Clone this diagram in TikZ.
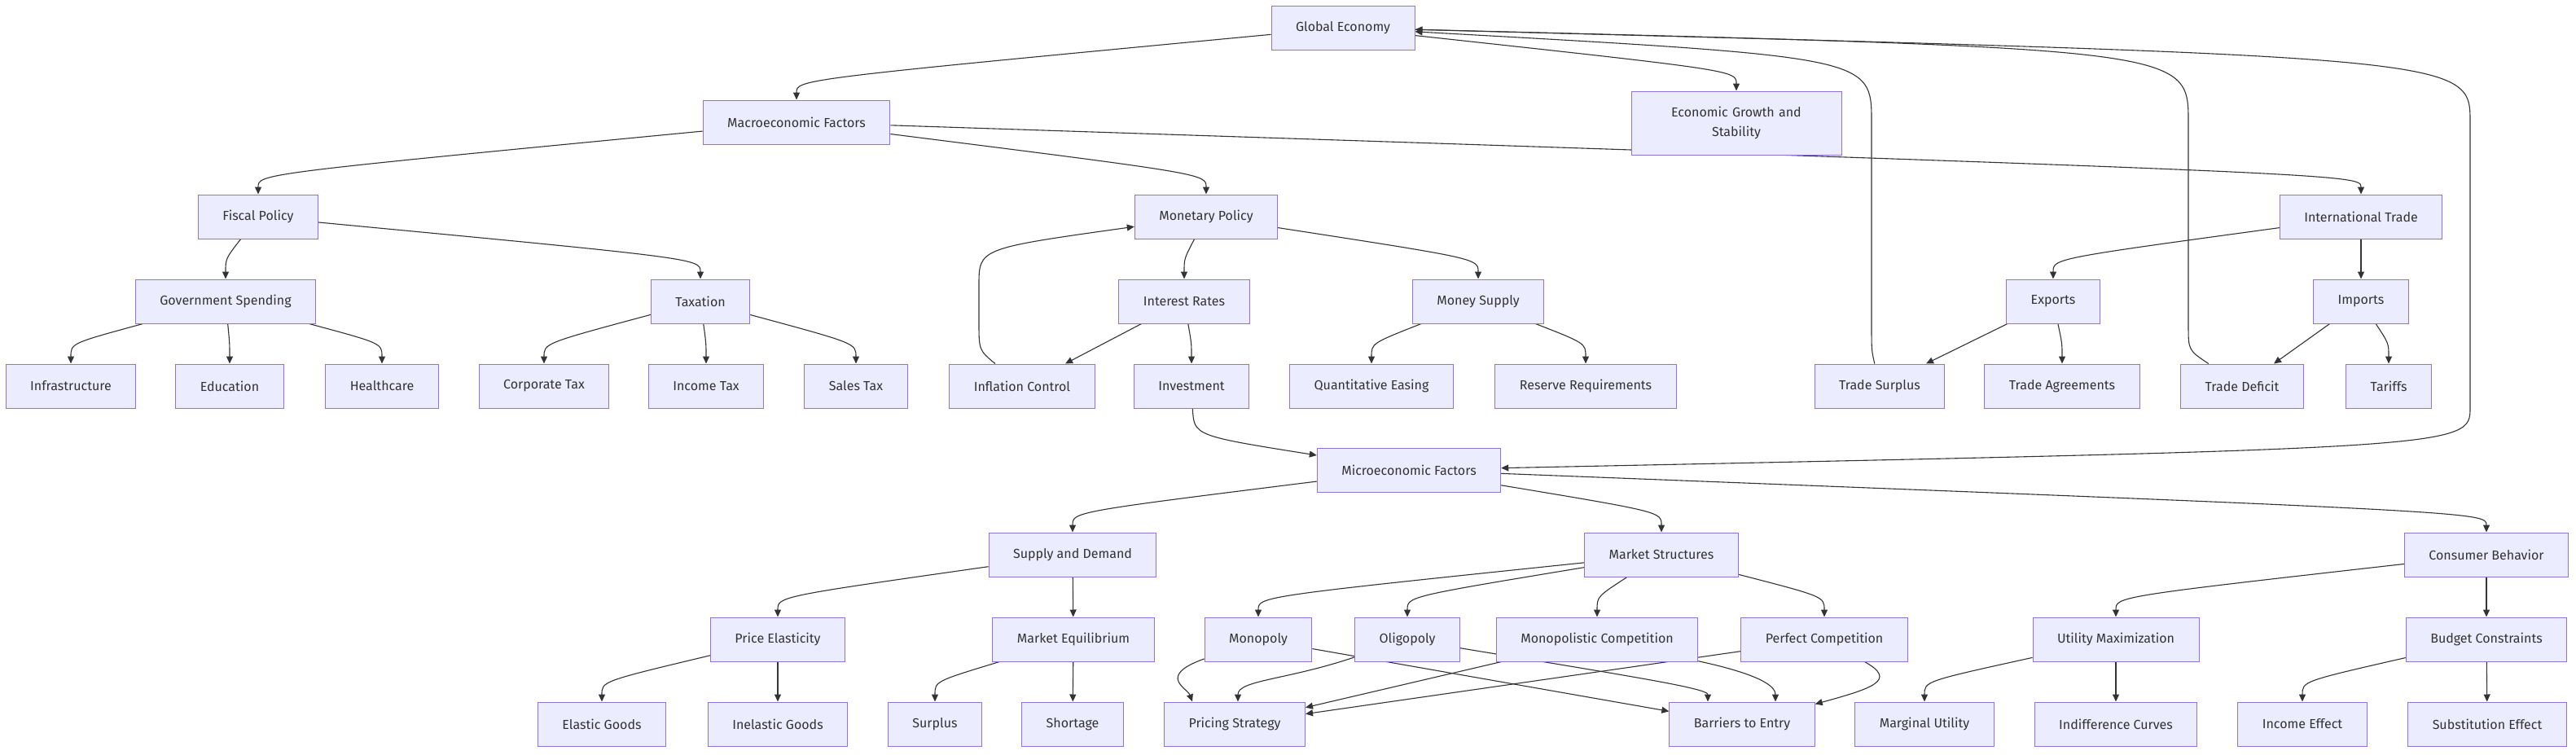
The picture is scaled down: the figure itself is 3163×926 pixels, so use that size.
\documentclass[tikz,border=0pt]{standalone}
\usepackage{fontspec}
\setmainfont{Fira Sans}
\usetikzlibrary{arrows.meta,calc,backgrounds}
\definecolor{boxfill}{HTML}{ECECFF}
\definecolor{boxline}{HTML}{9370DB}
\definecolor{ink}{HTML}{333333}

\begin{document}
\begin{tikzpicture}[x=1pt, y=-1pt]
\tikzset{ >={Triangle[length=9pt,width=8pt]},
  flowbox/.style={draw=boxline, line width=1pt, fill=boxfill, text=ink,
    font=\fontsize{16}{24}\selectfont, minimum height=54pt,
    inner xsep=30pt, inner ysep=8pt, align=center},
  conn/.style={->, draw=ink, line width=1.1pt},
}

\useasboundingbox (0,0) rectangle (3163,926);

%\draw [lightgray, dashed] (0,0) grid[step=100] (3163,926);

\node [flowbox] (global) at (1649,34) {Global Economy};

\node [flowbox] (macro) at (978,150) {Macroeconomic Factors};
\node [flowbox, minimum height=78pt, text width=198pt] (egs) at (2132,151) {Economic Growth and\\Stability};

\node [flowbox] (fiscal)   at (317,266)  {Fiscal Policy};
\node [flowbox] (monetary) at (1481,266) {Monetary Policy};
\node [flowbox] (trade)    at (2899,266) {International Trade};

\node [flowbox] (govspend) at (277,370)  {Government Spending};
\node [flowbox] (tax)      at (860,370)  {Taxation};
\node [flowbox] (rates)    at (1454,370) {Interest Rates};
\node [flowbox] (money)    at (1815,370) {Money Supply};
\node [flowbox] (exports)  at (2521,370) {Exports};
\node [flowbox] (imports)  at (2899,370) {Imports};

\node [flowbox] (infra)     at (87,474)   {Infrastructure};
\node [flowbox] (edu)       at (282,474)  {Education};
\node [flowbox] (health)    at (469,474)  {Healthcare};
\node [flowbox] (corptax)   at (668,474)  {Corporate Tax};
\node [flowbox] (inctax)    at (867,474)  {Income Tax};
\node [flowbox] (salestax)  at (1051,474) {Sales Tax};
\node [flowbox] (inflation) at (1255,474) {Inflation Control};
\node [flowbox] (invest)    at (1463,474) {Investment};
\node [flowbox] (qe)        at (1684,474) {Quantitative Easing};
\node [flowbox] (reserve)   at (1947,474) {Reserve Requirements};
\node [flowbox] (tsurplus)  at (2308,474) {Trade Surplus};
\node [flowbox] (agree)     at (2532,474) {Trade Agreements};
\node [flowbox] (deficit)   at (2753,474) {Trade Deficit};
\node [flowbox] (tariffs)   at (2933,474) {Tariffs};

\node [flowbox] (micro) at (1730,577) {Microeconomic Factors};

\node [flowbox] (supdem)     at (1317,681) {Supply and Demand};
\node [flowbox] (structures) at (2040,681) {Market Structures};
\node [flowbox] (consumer)   at (3053,681) {Consumer Behavior};

\node [flowbox] (priceel)   at (955,785)  {Price Elasticity};
\node [flowbox] (equil)     at (1318,785) {Market Equilibrium};
\node [flowbox] (monopoly)  at (1545,785) {Monopoly};
\node [flowbox] (oligopoly) at (1728,785) {Oligopoly};
\node [flowbox] (monocomp)  at (1961,785) {Monopolistic Competition};
\node [flowbox] (perfect)   at (2240,785) {Perfect Competition};
\node [flowbox] (utility)   at (2598,785) {Utility Maximization};
\node [flowbox] (budget)    at (3053,785) {Budget Constraints};

\node [flowbox] (elgoods)   at (739,889)  {Elastic Goods};
\node [flowbox] (inelgoods) at (955,889)  {Inelastic Goods};
\node [flowbox] (surplus)   at (1148,889) {Surplus};
\node [flowbox] (shortage)  at (1317,889) {Shortage};
\node [flowbox] (pricing)   at (1516,889) {Pricing Strategy};
\node [flowbox] (barriers)  at (2139,889) {Barriers to Entry};
\node [flowbox] (marginal)  at (2363,889) {Marginal Utility};
\node [flowbox] (indiff)    at (2598,889) {Indifference Curves};
\node [flowbox] (income)    at (2827,889) {Income Effect};
\node [flowbox] (subst)     at (3054,889) {Substitution Effect};

\begin{pgfonlayer}{background}
\draw [conn] (global) .. controls ($(macro.north)+(0,-25)$) .. (macro.north);
\draw [conn] (global) .. controls ($(egs.north)+(0,-25)$) .. (egs.north);
\draw [conn] (global) .. controls (3033,70) .. (3033,150) -- (3033,500) .. controls (3033,550) .. (micro);
\draw [conn] (tsurplus) .. controls (2298,430) .. (2298,400) -- (2298,150) .. controls (2298,70) .. (global);
\draw [conn] (deficit) .. controls (2687,430) .. (2687,400) -- (2687,150) .. controls (2687,60) .. (global);

\draw [conn] (macro) .. controls ($(fiscal.north)+(0,-25)$) .. (fiscal.north);
\draw [conn] (macro) .. controls ($(monetary.north)+(0,-25)$) .. (monetary.north);
\draw [conn] (macro) .. controls ($(trade.north)+(0,-25)$) .. (trade.north);

\draw [conn] (fiscal) .. controls ($(govspend.north)+(0,-25)$) .. (govspend.north);
\draw [conn] (fiscal) .. controls ($(tax.north)+(0,-25)$) .. (tax.north);
\draw [conn] (monetary) .. controls ($(rates.north)+(0,-25)$) .. (rates.north);
\draw [conn] (monetary) .. controls ($(money.north)+(0,-25)$) .. (money.north);
\draw [conn] (trade) .. controls ($(exports.north)+(0,-25)$) .. (exports.north);
\draw [conn] (trade) -- (imports);

\draw [conn] (govspend) .. controls ($(infra.north)+(0,-25)$) .. (infra.north);
\draw [conn] (govspend) .. controls ($(edu.north)+(0,-25)$) .. (edu.north);
\draw [conn] (govspend) .. controls ($(health.north)+(0,-25)$) .. (health.north);
\draw [conn] (tax) .. controls ($(corptax.north)+(0,-25)$) .. (corptax.north);
\draw [conn] (tax) .. controls ($(inctax.north)+(0,-25)$) .. (inctax.north);
\draw [conn] (tax) .. controls ($(salestax.north)+(0,-25)$) .. (salestax.north);
\draw [conn] (rates) -- ([xshift=53pt]inflation.north);
\draw [conn] (rates) .. controls ($(invest.north)+(0,-25)$) .. (invest.north);
\draw [conn] (inflation) .. controls (1202,430) .. (1202,395) -- (1202,350) .. controls (1202,305) .. (monetary);
\draw [conn] (money) .. controls ($(qe.north)+(0,-25)$) .. (qe.north);
\draw [conn] (money) .. controls ($(reserve.north)+(0,-25)$) .. (reserve.north);
\draw [conn] (exports) -- ([xshift=57pt]tsurplus.north);
\draw [conn] (exports) .. controls ($(agree.north)+(0,-25)$) .. (agree.north);
\draw [conn] (imports) -- ([xshift=39pt]deficit.north);
\draw [conn] (imports) .. controls ($(tariffs.north)+(0,-25)$) .. (tariffs.north);

\draw [conn] (invest) .. controls (1466,535) .. (micro);

\draw [conn] (micro) .. controls ($(supdem.north)+(0,-25)$) .. (supdem.north);
\draw [conn] (micro) .. controls ($(structures.north)+(0,-25)$) .. (structures.north);
\draw [conn] (micro) .. controls ($(consumer.north)+(0,-25)$) .. (consumer.north);

\draw [conn] (supdem) .. controls ($(priceel.north)+(0,-25)$) .. (priceel.north);
\draw [conn] (supdem) -- (equil);
\draw [conn] (structures) .. controls ($(monopoly.north)+(0,-25)$) .. (monopoly.north);
\draw [conn] (structures) .. controls ($(oligopoly.north)+(0,-25)$) .. (oligopoly.north);
\draw [conn] (structures) .. controls ($(monocomp.north)+(0,-25)$) .. (monocomp.north);
\draw [conn] (structures) .. controls ($(perfect.north)+(0,-25)$) .. (perfect.north);
\draw [conn] (consumer) .. controls ($(utility.north)+(0,-25)$) .. (utility.north);
\draw [conn] (consumer) -- (budget);

\draw [conn] (priceel) .. controls ($(elgoods.north)+(0,-25)$) .. (elgoods.north);
\draw [conn] (priceel) -- (inelgoods);
\draw [conn] (equil) .. controls ($(surplus.north)+(0,-25)$) .. (surplus.north);
\draw [conn] (equil) -- (shortage);
\draw [conn] (utility) .. controls ($(marginal.north)+(0,-25)$) .. (marginal.north);
\draw [conn] (utility) -- (indiff);
\draw [conn] (budget) .. controls ($(income.north)+(0,-25)$) .. (income.north);
\draw [conn] (budget) -- (subst);

\draw [conn] (monopoly) .. controls (1420,830) and (1458,845) .. ([xshift=-52pt]pricing.north);
\draw [conn] (oligopoly) .. controls (1580,835) and (1520,835) .. ([xshift=4pt]pricing.north);
\draw [conn] (monopoly) -- (barriers);
\draw [conn] (oligopoly) .. controls (2000,830) and (2097,845) .. ([xshift=-42pt]barriers.north);
\draw [conn] (monocomp) -- (pricing);
\draw [conn] (monocomp) .. controls (2170,830) and (2180,845) .. ([xshift=41pt]barriers.north);
\draw [conn] (perfect) -- (pricing);
\draw [conn] (perfect) .. controls (2330,835) and (2300,845) .. (barriers);
\end{pgfonlayer}
\end{tikzpicture}
\end{document}
